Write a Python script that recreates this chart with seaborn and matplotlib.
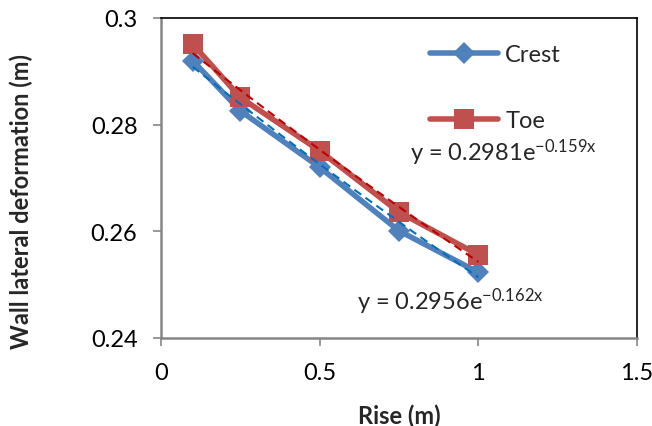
import matplotlib
matplotlib.use("Agg")
import matplotlib.pyplot as plt
import seaborn as sns
import numpy as np
import pandas as pd

rise = [0.1, 0.25, 0.5, 0.75, 1.0]
crest = [0.2920, 0.2826, 0.2720, 0.2601, 0.2523]
toe = [0.2951, 0.2851, 0.2751, 0.2636, 0.2556]
series_names = ["Crest", "Toe"]
fit_a = [0.2956, 0.2981]
fit_b = [-0.162, -0.159]
eq_labels = [r"y = 0.2956e$^{\mathregular{-0.162x}}$", r"y = 0.2981e$^{\mathregular{-0.159x}}$"]
xticks = [0, 0.5, 1, 1.5]
yticks = [0.24, 0.26, 0.28, 0.3]

sns.set_theme(style="white")
plt.rcParams['font.family'] = ['Lato', 'DejaVu Sans']
plt.rcParams['mathtext.default'] = 'regular'

FS = 17

df = pd.DataFrame({
    "Rise": rise * 2,
    "Def": crest + toe,
    "Series": ["Crest"] * len(rise) + ["Toe"] * len(rise),
})

fig = plt.figure(figsize=(6.52, 4.27), dpi=100)
ax = fig.add_axes([161/652, 1-339/427, (637-161)/652, (339-19)/427])

palette = {"Crest": "#4F81BD", "Toe": "#C0504D"}
sns.lineplot(data=df, x="Rise", y="Def", hue="Series", style="Series",
             markers={"Crest": "D", "Toe": "s"}, dashes=False,
             palette=palette, linewidth=4, markersize=12,
             markeredgewidth=0, ax=ax, legend=True)
for line in ax.lines:
    if line.get_marker() == "D":
        line.set_markersize(11)
    elif line.get_marker() == "s":
        line.set_markersize(14.5)

# trendlines
xs = np.linspace(min(rise), max(rise), 50)
trend_df = pd.DataFrame({
    "Rise": np.concatenate([xs, xs]),
    "Def": np.concatenate([fit_a[0]*np.exp(fit_b[0]*xs), fit_a[1]*np.exp(fit_b[1]*xs)]),
    "Series": ["Crest"]*len(xs) + ["Toe"]*len(xs),
})
sns.lineplot(data=trend_df, x="Rise", y="Def", hue="Series",
             palette={"Crest": "#0070C0", "Toe": "#C00000"},
             linewidth=1.5, ax=ax, legend=False, dashes=False)
for line in ax.lines[-2:]:
    line.set_linestyle((0, (4, 2.5)))

ax.set_xlim(0, 1.5)
ax.set_ylim(0.24, 0.3)
ax.set_xticks(xticks)
ax.set_xticklabels(["0", "0.5", "1", "1.5"])
ax.set_yticks(yticks)
ax.set_yticklabels(["0.24", "0.26", "0.28", "0.3"])
ax.tick_params(axis="both", labelsize=FS, colors="#000000", length=6, width=1.2, direction="out")
ax.tick_params(axis="x", pad=11, color="#868686")
ax.tick_params(axis="y", pad=11, color="#868686")
ax.xaxis.set_ticks_position("bottom")
ax.yaxis.set_ticks_position("left")

for s in ["left", "bottom"]:
    ax.spines[s].set_color("#868686")
    ax.spines[s].set_linewidth(1.8)
for s in ["top", "right"]:
    ax.spines[s].set_color("#000000")
    ax.spines[s].set_linewidth(1.2)

ax.set_xlabel("Rise (m)", fontsize=FS, fontweight="bold")
ax.set_ylabel("Wall lateral deformation (m)", fontsize=FS, fontweight="bold")
ax.xaxis.set_label_coords(0.5, -0.205)
ax.yaxis.set_label_coords(-0.269, 0.431)

handles, labels = ax.get_legend_handles_labels()
leg = ax.legend(handles[:2], labels[:2], loc="upper left", bbox_to_anchor=(0.52, 0.985),
                frameon=False, fontsize=FS, labelspacing=1.9, handlelength=2.9,
                handletextpad=0.3)

ax.text(0.786, 0.2749, eq_labels[1], fontsize=FS, ha="left", va="center")
ax.text(0.617, 0.2469, eq_labels[0], fontsize=FS, ha="left", va="center")

fig.savefig("out.png", dpi=100)
